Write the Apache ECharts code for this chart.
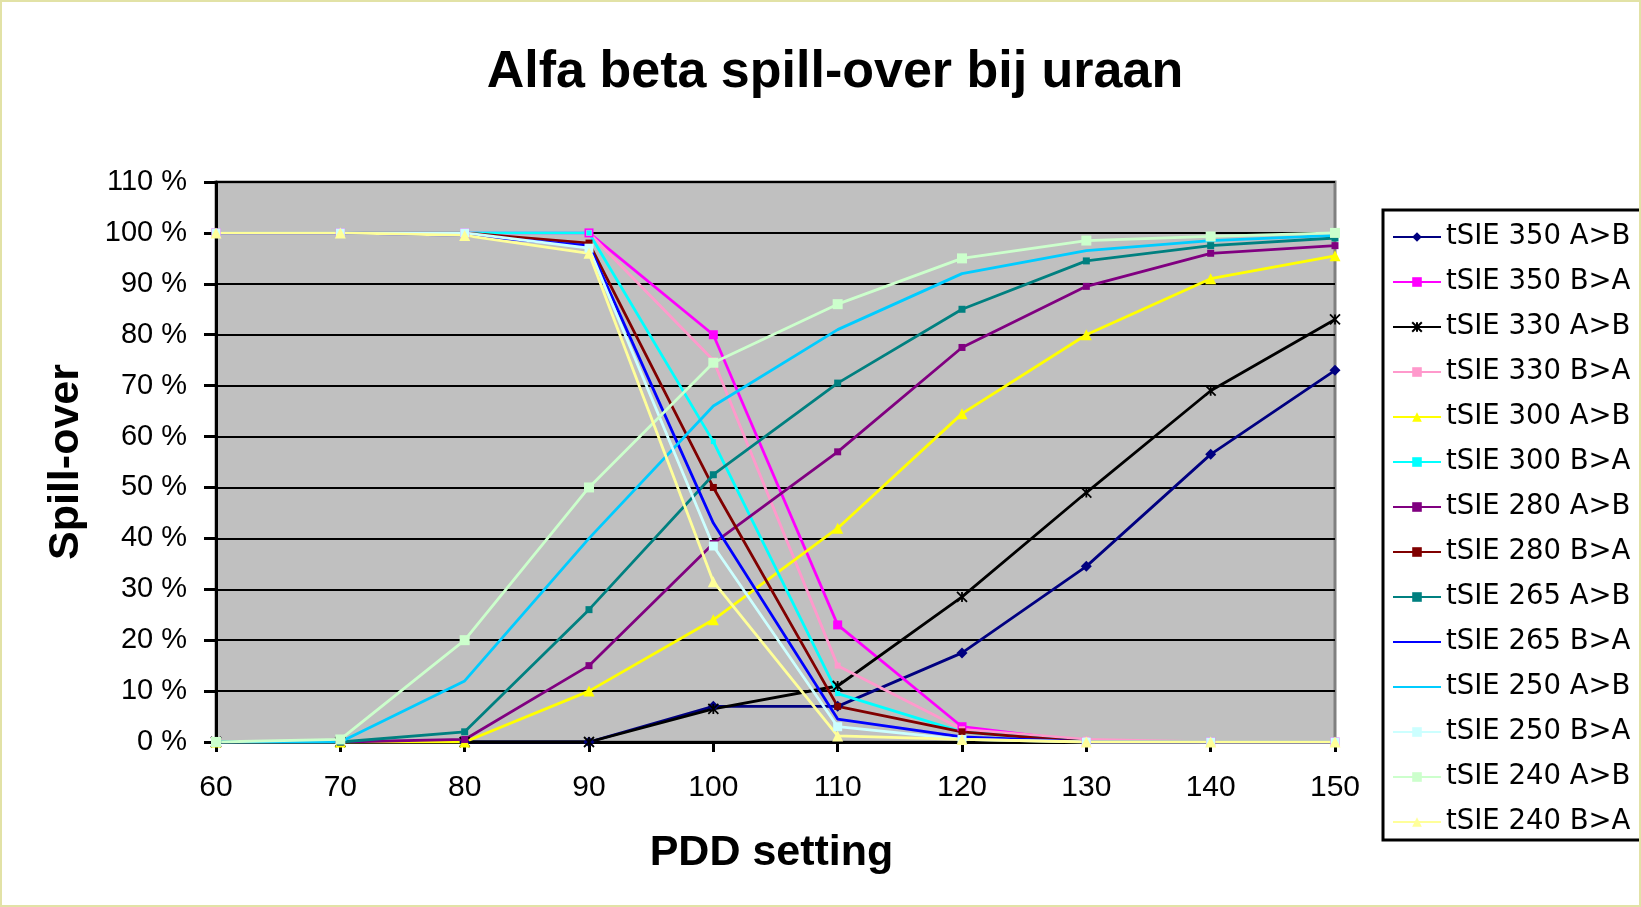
<!DOCTYPE html>
<html>
<head>
<meta charset="utf-8">
<script src="https://cdn.jsdelivr.net/npm/echarts@6/dist/echarts.min.js"></script>
<style>
html,body{margin:0;padding:0;background:#fff;}
#chart{width:1641px;height:907px;}
</style>
</head>
<body>
<div id="chart"></div>
<script>
// PDD setting (x values)
var pddSettings = [60, 70, 80, 90, 100, 110, 120, 130, 140, 150];
var yTickValues = [0, 10, 20, 30, 40, 50, 60, 70, 80, 90, 100, 110];

var seriesNames = [
  'tSIE 350 A>B', 'tSIE 350 B>A', 'tSIE 330 A>B', 'tSIE 330 B>A',
  'tSIE 300 A>B', 'tSIE 300 B>A', 'tSIE 280 A>B', 'tSIE 280 B>A',
  'tSIE 265 A>B', 'tSIE 265 B>A', 'tSIE 250 A>B', 'tSIE 250 B>A',
  'tSIE 240 A>B', 'tSIE 240 B>A'
];

// spill-over in %
var tsie350AB = [0, 0, 0, 0, 7, 7, 17.5, 34.5, 56.5, 73];
var tsie350BA = [100, 100, 100, 100, 80, 23, 3, 0, 0, 0];
var tsie330AB = [0, 0, 0, 0, 6.5, 11, 28.5, 49, 69, 83];
var tsie330BA = [100, 100, 100, 100, 75, 15, 2.5, 0.5, 0, 0];
var tsie300AB = [0, 0, 0, 10, 24, 42, 64.5, 80, 91, 95.5];
var tsie300BA = [100, 100, 100, 100, 59, 9.5, 2, 0, 0, 0];
var tsie280AB = [0, 0, 0.5, 15, 39, 57, 77.5, 89.5, 96, 97.5];
var tsie280BA = [100, 100, 100, 98, 50, 7, 2, 0, 0, 0];
var tsie265AB = [0, 0, 2, 26, 52.5, 70.5, 85, 94.5, 97.5, 99];
var tsie265BA = [100, 100, 99.5, 97.5, 43, 4.5, 1, 0, 0, 0];
var tsie250AB = [0, 0, 12, 40, 66, 81, 92, 96.5, 98.5, 99.5];
var tsie250BA = [100, 100, 100, 97, 38.5, 3, 0.5, 0, 0, 0];
var tsie240AB = [0, 0.5, 20, 50, 74.5, 86, 95, 98.5, 99.3, 100];
var tsie240BA = [100, 100, 99.5, 96, 31.5, 1.2, 0.5, 0, 0, 0];

var allValues = [tsie350AB, tsie350BA, tsie330AB, tsie330BA, tsie300AB, tsie300BA,
  tsie280AB, tsie280BA, tsie265AB, tsie265BA, tsie250AB, tsie250BA, tsie240AB, tsie240BA];

var colors = ['#000080', '#FF00FF', '#000000', '#FF99CC', '#FFFF00', '#00FFFF', '#800080',
  '#800000', '#008080', '#0000FF', '#00CCFF', '#CCFFFF', '#CCFFCC', '#FFFF99'];

var STAR = 'path://M0,0L10,10M10,0L0,10M5,0L5,10';
var NOMARK = 'path://M0,0L1,1';
var markers = [
  {s: 'diamond', z: 11}, {s: 'rect', z: 9}, {s: STAR, z: 10, stroke: true}, {s: 'rect', z: 6},
  {s: 'triangle', z: 11}, {s: 'rect', z: 5}, {s: 'rect', z: 7}, {s: 'rect', z: 7},
  {s: 'rect', z: 7}, {s: NOMARK, z: 0, none: true}, {s: NOMARK, z: 0, none: true}, {s: 'rect', z: 9},
  {s: 'rect', z: 10}, {s: 'triangle', z: 11}
];

var series = seriesNames.map(function (name, i) {
  var m = markers[i];
  var s = {
    name: name,
    type: 'line',
    data: pddSettings.map(function (x, j) { return [x, allValues[i][j]]; }),
    symbol: m.s,
    symbolSize: m.z,
    showSymbol: !m.none,
    lineStyle: { color: colors[i], width: 2.8 },
    itemStyle: { color: colors[i] },
    emphasis: { disabled: true },
    animation: false
  };
  if (m.stroke) {
    s.itemStyle = { color: colors[i], borderColor: colors[i], borderWidth: 1.8 };
  }
  return s;
});

var chart = echarts.init(document.getElementById('chart'), null, { renderer: 'canvas' });
chart.setOption({
  animation: false,
  backgroundColor: '#ffffff',
  title: {
    text: 'Alfa beta spill-over bij uraan',
    left: 830,
    textAlign: 'center',
    top: 42,
    textStyle: { fontFamily: 'Liberation Sans, Arial, sans-serif', fontWeight: 'bold', fontSize: 52, color: '#000' }
  },
  graphic: [{
    type: 'rect', silent: true, z: 100,
    shape: { x: 1, y: 1, width: 1639, height: 905 },
    style: { fill: 'none', stroke: '#e2e2a6', lineWidth: 2 }
  }],
  legend: {
    orient: 'vertical',
    left: 1383,
    top: 210,
    padding: [12, 40, 3, 9],
    itemGap: 15,
    itemWidth: 48,
    itemHeight: 12,
    borderColor: '#000',
    borderWidth: 3,
    backgroundColor: '#ffffff',
    selectedMode: false,
    textStyle: { fontFamily: 'DejaVu Sans, sans-serif', fontSize: 27.5, lineHeight: 30, color: '#000' },
    data: seriesNames
  },
  grid: {
    left: 216, top: 182, right: 306, bottom: 165,
    show: true,
    backgroundColor: '#C0C0C0',
    borderColor: '#808080',
    borderWidth: 3
  },
  xAxis: {
    type: 'value',
    min: 60, max: 150, interval: 10,
    name: 'PDD setting',
    nameLocation: 'middle',
    nameGap: 90,
    nameTextStyle: { fontFamily: 'Liberation Sans, Arial, sans-serif', fontWeight: 'bold', fontSize: 43, color: '#000', padding: [0, 8, 0, 0] },
    axisLine: { onZero: false, lineStyle: { color: '#000', width: 3 } },
    axisTick: { show: true, length: 10, lineStyle: { color: '#000', width: 3 } },
    axisLabel: { margin: 31, fontFamily: 'Liberation Sans, Arial, sans-serif', fontSize: 30, color: '#000' },
    splitLine: { show: false }
  },
  yAxis: {
    type: 'value',
    min: 0, max: 110, interval: 10,
    name: 'Spill-over',
    nameLocation: 'middle',
    nameGap: 128,
    nameRotate: 90,
    nameTextStyle: { fontFamily: 'Liberation Sans, Arial, sans-serif', fontWeight: 'bold', fontSize: 43, color: '#000' },
    axisLine: { show: true, lineStyle: { color: '#000', width: 3 } },
    axisTick: { show: true, length: 12, lineStyle: { color: '#000', width: 3 } },
    axisLabel: {
      margin: 29, fontFamily: 'Liberation Sans, Arial, sans-serif', fontSize: 29, color: '#000',
      formatter: function (v) { return yTickValues.indexOf(v) >= 0 ? v + ' %' : ''; }
    },
    splitLine: { show: true, lineStyle: { color: '#000', width: 2 } }
  },
  series: series
});
</script>
</body>
</html>
